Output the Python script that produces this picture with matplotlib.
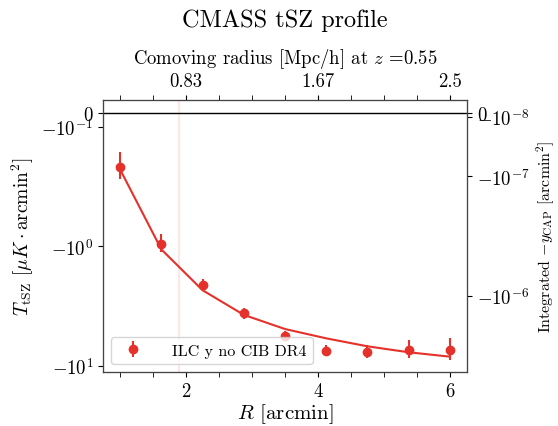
import numpy as np
import matplotlib
matplotlib.use('Agg')
import matplotlib.pyplot as plt
from matplotlib.ticker import MultipleLocator

plt.rcParams['font.family'] = 'serif'
plt.rcParams['font.serif'] = ['cmr10']
plt.rcParams['mathtext.fontset'] = 'cm'
plt.rcParams['axes.formatter.use_mathtext'] = True

# data
R = [1.0, 1.625, 2.25, 2.875, 3.5, 4.125, 4.75, 5.375, 6.0]  # arcmin
T_data = [-0.218, -0.955, -2.11, -3.66, -5.62, -7.5, -7.73, -7.4, -7.4]
T_err = [0.055, 0.16, 0.23, 0.39, 0.45, 0.72, 0.95, 1.3, 1.5]
T_model = [-0.229, -1.066, -2.34, -3.76, -4.94, -5.91, -6.89, -7.73, -8.41]

R_beam = 1.89
top_ticks = [2, 4, 6]
top_labels = ['0.83', '1.67', '2.5']
left_ticks = [0, -0.1, -1, -10]
left_labels = ['$0$', r'$-10^{-1}$', r'$-10^{0}$', r'$-10^{1}$']
right_ticks = [0, -1e-8, -1e-7, -1e-6]
right_labels = ['$0$', r'$-10^{-8}$', r'$-10^{-7}$', r'$-10^{-6}$']

uK_to_y = 3.84e-7  # muK arcmin^2 -> y arcmin^2 at 150 GHz
red = '#e5312a'
ylim = (-11.3, 0.1)

fig = plt.figure(figsize=(5.58, 4.27), dpi=100)
fig.subplots_adjust(left=0.1846, right=0.8369, top=0.7635, bottom=0.1265)
ax = fig.add_subplot(111)

ax.axvline(R_beam, color='red', alpha=0.1, lw=1.5)
ax.axhline(0, color='k', lw=1)
ax.plot(R, T_model, color=red, lw=1.5)
ax.errorbar(R, T_data, yerr=T_err, fmt='o', color=red, ms=6, elinewidth=1.5,
            label='ILC y no CIB DR4')

ax.set_yscale('symlog', linthresh=0.1, linscale=0.1)
ax.set_ylim(*ylim)
ax.set_yticks(left_ticks)
ax.set_yticklabels(left_labels)
ax.yaxis.set_minor_locator(plt.NullLocator())
ax.set_xlim(0.74, 6.26)
ax.xaxis.set_major_locator(MultipleLocator(2))
ax.xaxis.set_minor_locator(MultipleLocator(0.5))
ax.tick_params(labelsize=13.5)
ax.tick_params(which='minor', length=3.5)
ax.set_xlabel(r'$R$ [arcmin]', fontsize=15, labelpad=1)
ax.set_ylabel(r'$T_{\rm tSZ}$ [$\mu K \cdot {\rm arcmin}^2$]', fontsize=14)
ax.legend(loc='lower left', fontsize=11.5, handletextpad=1.4, borderaxespad=0.5)

# right axis: integrated y
ax2 = ax.twinx()
ax2.set_yscale('symlog', linthresh=0.1 * uK_to_y, linscale=0.1)
ax2.set_ylim(ylim[0] * uK_to_y, ylim[1] * uK_to_y)
ax2.set_yticks(right_ticks)
ax2.set_yticklabels(right_labels)
ax2.yaxis.set_minor_locator(plt.NullLocator())
ax2.tick_params(labelsize=13.5)
ax2.set_ylabel(r'Integrated $-y_{\rm CAP}$ [arcmin$^2$]', fontsize=11.5)

# top axis: comoving radius
ax3 = ax.twiny()
ax3.set_xlim(ax.get_xlim())
ax3.set_xticks(top_ticks)
ax3.set_xticklabels(top_labels)
ax3.xaxis.set_minor_locator(MultipleLocator(0.5))
ax3.tick_params(labelsize=13.5)
ax3.tick_params(which='minor', length=3.5)
ax3.set_xlabel(r'Comoving radius [Mpc/h] at $z$ =0.55', fontsize=13.5, labelpad=7)
ax3.set_title('CMASS tSZ profile', fontsize=17.5, pad=14)

for a in (ax, ax2, ax3):
    for s in a.spines.values():
        s.set_color('#444444')

fig.savefig('out.png', dpi=100)
